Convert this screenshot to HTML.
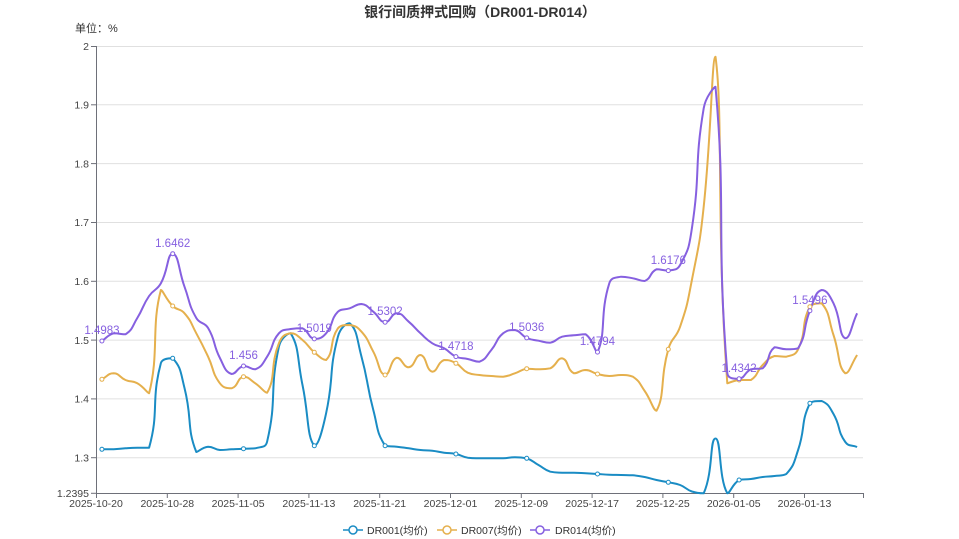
<!DOCTYPE html>
<html><head><meta charset="utf-8">
<style>
html,body{margin:0;padding:0;background:#fff;}
body{width:959px;height:539px;overflow:hidden;position:relative;font-family:"Liberation Sans","Noto Sans CJK SC",sans-serif;}
svg{position:absolute;left:0;top:0;}
</style></head>
<body>
<svg id="c" width="959" height="539" viewBox="0 0 959 539" xmlns="http://www.w3.org/2000/svg" font-family="Liberation Sans, Noto Sans CJK SC, sans-serif">
<text x="480" y="17" text-anchor="middle" font-size="14" font-weight="bold" fill="#333">银行间质押式回购（DR001-DR014）</text>
<text x="75" y="32" font-size="11" fill="#333">单位：%</text>
<g stroke="#e0e0e0" stroke-width="1">
<line x1="96" y1="46.5" x2="863" y2="46.5"/>
<line x1="96" y1="104.8" x2="863" y2="104.8"/>
<line x1="96" y1="163.6" x2="863" y2="163.6"/>
<line x1="96" y1="222.5" x2="863" y2="222.5"/>
<line x1="96" y1="281.3" x2="863" y2="281.3"/>
<line x1="96" y1="340.1" x2="863" y2="340.1"/>
<line x1="96" y1="398.9" x2="863" y2="398.9"/>
<line x1="96" y1="457.7" x2="863" y2="457.7"/>
</g>
<g stroke="#6e7079" stroke-width="1">
<line x1="96.5" y1="46" x2="96.5" y2="493.5"/>
<line x1="91" y1="46.5" x2="96" y2="46.5"/>
<line x1="91" y1="104.8" x2="96" y2="104.8"/>
<line x1="91" y1="163.6" x2="96" y2="163.6"/>
<line x1="91" y1="222.5" x2="96" y2="222.5"/>
<line x1="91" y1="281.3" x2="96" y2="281.3"/>
<line x1="91" y1="340.1" x2="96" y2="340.1"/>
<line x1="91" y1="398.9" x2="96" y2="398.9"/>
<line x1="91" y1="457.7" x2="96" y2="457.7"/>
<line x1="91" y1="493.3" x2="96" y2="493.3"/>
<line x1="96" y1="493.5" x2="863.5" y2="493.5"/>
<line x1="96.5" y1="493" x2="96.5" y2="498"/>
<line x1="167.3" y1="493" x2="167.3" y2="498"/>
<line x1="238.1" y1="493" x2="238.1" y2="498"/>
<line x1="308.9" y1="493" x2="308.9" y2="498"/>
<line x1="379.7" y1="493" x2="379.7" y2="498"/>
<line x1="450.5" y1="493" x2="450.5" y2="498"/>
<line x1="521.3" y1="493" x2="521.3" y2="498"/>
<line x1="592.1" y1="493" x2="592.1" y2="498"/>
<line x1="662.9" y1="493" x2="662.9" y2="498"/>
<line x1="733.7" y1="493" x2="733.7" y2="498"/>
<line x1="804.5" y1="493" x2="804.5" y2="498"/>
<line x1="863.5" y1="493" x2="863.5" y2="498"/>
</g>
<g font-size="10.5" fill="#444" text-anchor="end">
<text x="89" y="50">2</text>
<text x="89" y="108.5">1.9</text>
<text x="89" y="167.3">1.8</text>
<text x="89" y="226.2">1.7</text>
<text x="89" y="285">1.6</text>
<text x="89" y="343.8">1.5</text>
<text x="89" y="402.6">1.4</text>
<text x="89" y="461.4">1.3</text>
<text x="89" y="497">1.2395</text>
</g>
<g font-size="10.5" fill="#444" text-anchor="middle">
<text x="96" y="507">2025-10-20</text>
<text x="167.3" y="507">2025-10-28</text>
<text x="238.1" y="507">2025-11-05</text>
<text x="308.9" y="507">2025-11-13</text>
<text x="379.7" y="507">2025-11-21</text>
<text x="450.5" y="507">2025-12-01</text>
<text x="521.3" y="507">2025-12-09</text>
<text x="592.1" y="507">2025-12-17</text>
<text x="662.9" y="507">2025-12-25</text>
<text x="733.7" y="507">2026-01-05</text>
<text x="804.5" y="507">2026-01-13</text>
</g>
<g id="series"></g>
<g id="labels" font-size="11.5" fill="#8660e0" text-anchor="middle">
<text x="102" y="334">1.4983</text>
<text x="172.7" y="247">1.6462</text>
<text x="243.5" y="359">1.456</text>
<text x="314.3" y="332">1.5019</text>
<text x="385.1" y="315">1.5302</text>
<text x="455.9" y="350">1.4718</text>
<text x="526.7" y="331">1.5036</text>
<text x="597.5" y="345">1.4794</text>
<text x="668.3" y="264">1.6176</text>
<text x="739.1" y="372">1.4342</text>
<text x="809.9" y="304">1.5496</text>
</g>
<g font-size="10.5" fill="#333">
<line x1="343" y1="530" x2="363" y2="530" stroke="#1a8cc4" stroke-width="1.5"/>
<circle cx="353" cy="530" r="4" fill="#fff" stroke="#1a8cc4" stroke-width="1.5"/>
<text x="367" y="534">DR001(均价)</text>
<line x1="437" y1="530" x2="457" y2="530" stroke="#e5b04d" stroke-width="1.5"/>
<circle cx="447" cy="530" r="4" fill="#fff" stroke="#e5b04d" stroke-width="1.5"/>
<text x="461" y="534">DR007(均价)</text>
<line x1="530" y1="530" x2="550" y2="530" stroke="#8660e0" stroke-width="1.5"/>
<circle cx="540" cy="530" r="4" fill="#fff" stroke="#8660e0" stroke-width="1.5"/>
<text x="555" y="534">DR014(均价)</text>
</g>
</svg>
<script>
(function(){
var blue=[449.3,449.3,448.3,447.7,447.7,363,358.3,388,452,446.7,450,449.3,448.7,448.3,441.7,346.7,333.3,385,445.7,413.3,336.7,323.3,356.7,410,445.7,446.7,448.3,450,450.7,452.7,454,457.7,458.3,458.3,458.3,457.3,458.3,465,471.7,472.7,472.7,473.3,474,474.7,475,475.3,477,480,482.3,485,491.5,493.3,438.5,493.3,480,479,477,476,474,450,403.3,401,414,442,447];
var orange=[379.3,373.3,380,383.3,393.3,290,306,313.3,333.3,356.7,383.3,388.3,376.7,383.3,392.7,343.3,333.3,340,352.3,360,328.3,325,331.7,351.7,375,357.7,367.3,355,371.7,360,363.3,372.7,375,376,376.7,373.3,368.7,369.3,368.3,358.3,373.3,370,374,376,375,376.7,391,410.7,349.3,326.7,280,206.7,56.7,383.3,380,380,365,356,356.7,349.3,306.7,303.3,335,373.3,355];
var purple=[341,333.3,334.3,318,296,283.3,253.7,286.7,318,328,358,374,366,369.3,356.7,333.3,329,328.3,338.9,333.3,311.7,308.3,304,311.7,322.2,313.3,321.7,333.3,343.3,348.3,356.6,359,361.7,350,333.3,330,337.9,340.7,342.7,336.7,335.3,334.3,352.1,283.3,276.7,278.3,281,269.3,270.6,265,228.3,108.3,86.7,373,378.8,369.3,368.3,347.3,349.3,348.3,310.7,290,303.3,338.3,313.3];
function X(i){return 96+11.8*(i+0.5);}
function path(ys){
  var n=ys.length,pts=[];for(var i=0;i<n;i++)pts.push([X(i),ys[i]]);
  var s=0.5,cin=[],cout=[];
  for(var i=0;i<n;i++){
    var p=pts[i],pr=pts[Math.max(0,i-1)],nx=pts[Math.min(n-1,i+1)];
    var vx=nx[0]-pr[0],vy=nx[1]-pr[1];
    var l0=Math.hypot(p[0]-pr[0],p[1]-pr[1]),l1=Math.hypot(nx[0]-p[0],nx[1]-p[1]);
    var r=(l0+l1)>0?l1/(l0+l1):0.5;
    var c1x=p[0]+vx*s*r,c1y=p[1]+vy*s*r;
    var c0x=p[0]-vx*s*(1-r),c0y=p[1]-vy*s*(1-r);
    function cl(v,a,b){return Math.min(Math.max(v,Math.min(a,b)),Math.max(a,b));}
    c1x=cl(c1x,p[0],nx[0]);c1y=cl(c1y,p[1],nx[1]);
    c0x=cl(c0x,p[0],pr[0]);c0y=cl(c0y,p[1],pr[1]);
    cin.push([c0x,c0y]);cout.push([c1x,c1y]);
  }
  var d='M'+pts[0][0].toFixed(2)+' '+pts[0][1].toFixed(2);
  for(var i=1;i<n;i++){
    d+='C'+cout[i-1][0].toFixed(2)+' '+cout[i-1][1].toFixed(2)+' '+cin[i][0].toFixed(2)+' '+cin[i][1].toFixed(2)+' '+pts[i][0].toFixed(2)+' '+pts[i][1].toFixed(2);
  }
  return d;
}
var g=document.getElementById('series'),ns='http://www.w3.org/2000/svg';
var ser=[[blue,'#1a8cc4'],[orange,'#e5b04d'],[purple,'#8660e0']];
ser.forEach(function(sr){
  var p=document.createElementNS(ns,'path');
  p.setAttribute('d',path(sr[0]));p.setAttribute('fill','none');
  p.setAttribute('stroke',sr[1]);p.setAttribute('stroke-width','2');
  p.setAttribute('stroke-linejoin','round');
  g.appendChild(p);
});
ser.forEach(function(sr){
  for(var i=0;i<sr[0].length;i+=6){
    var c=document.createElementNS(ns,'circle');
    c.setAttribute('cx',X(i));c.setAttribute('cy',sr[0][i]);c.setAttribute('r','2');
    c.setAttribute('fill','#fff');c.setAttribute('stroke',sr[1]);c.setAttribute('stroke-width','1');
    g.appendChild(c);
  }
});
})();
</script>
</body></html>
